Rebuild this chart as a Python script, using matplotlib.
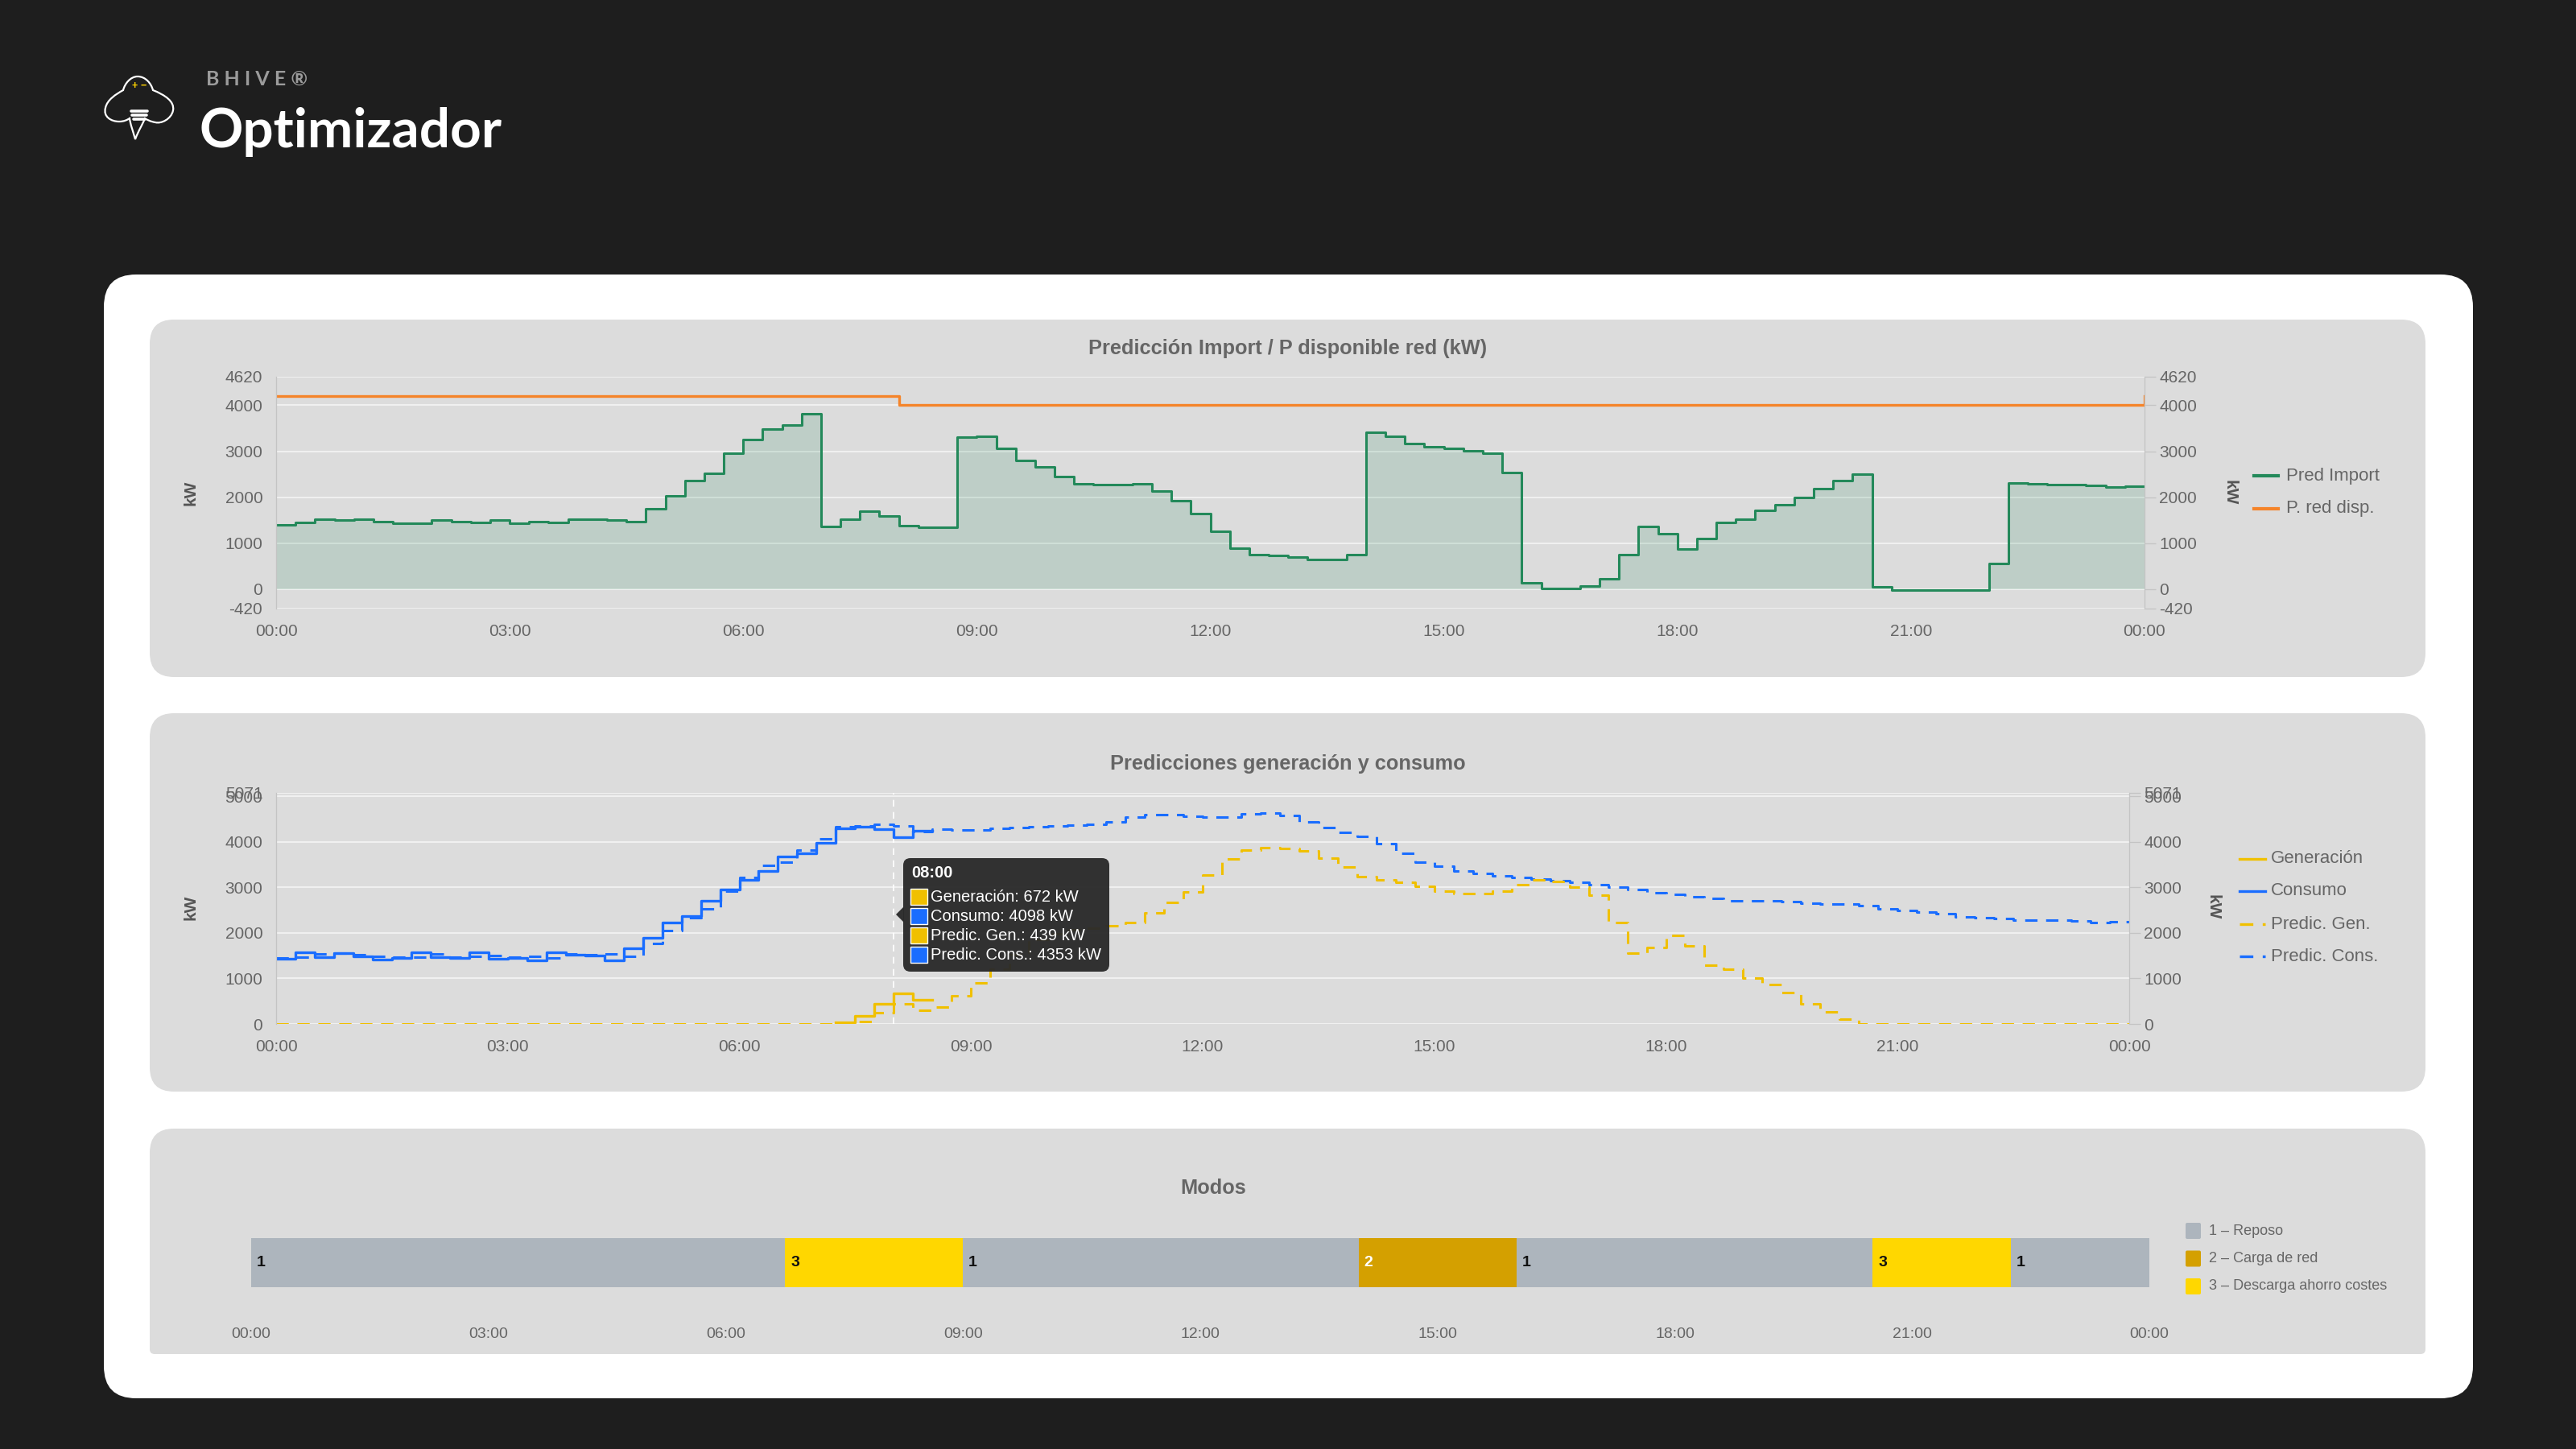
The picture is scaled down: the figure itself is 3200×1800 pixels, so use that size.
import numpy as np
import matplotlib
matplotlib.use('Agg')
import matplotlib.pyplot as plt
from matplotlib.patches import FancyBboxPatch, Rectangle, Polygon, PathPatch
from matplotlib.path import Path
from matplotlib.lines import Line2D

plt.rcParams['font.family'] = ['Liberation Sans', 'DejaVu Sans']
plt.rcParams['axes.unicode_minus'] = False

W, H = 3200, 1800

# ---------------- data (15 min slots) ----------------
hour_ticks = [0, 3, 6, 9, 12, 15, 18, 21, 24]
hour_labels = ['00:00', '03:00', '06:00', '09:00', '12:00', '15:00', '18:00', '21:00', '00:00']

pred_import = [1400, 1450, 1530, 1500, 1525, 1473, 1430, 1430,
               1502, 1467, 1456, 1502, 1438, 1473, 1444, 1520,
               1514, 1502, 1473, 1747, 2026, 2358, 2521, 2952,
               3249, 3476, 3563, 3814, 1357, 1531, 1706, 1590,
               1386, 1351, 1339, 3301, 3319, 3068, 2795, 2661,
               2457, 2288, 2271, 2282, 2300, 2137, 1921, 1642,
               1252, 891, 757, 739, 699, 652, 652, 757,
               3418, 3319, 3173, 3098, 3057, 3016, 2958, 2533,
               146, 17, 17, 76, 221, 757, 1368, 1205,
               873, 1095, 1456, 1514, 1718, 1834, 1997, 2183,
               2358, 2504, 58, -10, -10, -10, -10, -10,
               565, 2311, 2288, 2277, 2271, 2265, 2224, 2242]
red_disp_hours = [0, 8, 24]
red_disp_kw = [4200, 4000, 4200]
import_ticks = [-420, 0, 1000, 2000, 3000, 4000, 4620]

consumo = [1431, 1577, 1460, 1560, 1489, 1413, 1448, 1577,
           1460, 1448, 1577, 1431, 1448, 1390, 1566, 1519,
           1507, 1390, 1665, 1883, 2223, 2360, 2710, 2944,
           3161, 3355, 3677, 3748, 3971, 4293, 4334, 4280,
           4098, 4240]
generacion_start = 7.25
generacion = [40, 170, 440, 672, 522]
pred_gen = [0, 0, 0, 0, 0, 0, 0, 0, 0, 0, 0, 0, 0, 0, 0, 0,
            0, 0, 0, 0, 0, 0, 0, 0, 0, 0, 0, 0, 0, 25, 55, 246,
            439, 300, 375, 610, 904, 1209, 1520, 1850,
            1980, 2060, 2107, 2148, 2224, 2441, 2664, 2899,
            3263, 3627, 3820, 3867, 3850, 3795, 3648, 3443,
            3226, 3161, 3103, 3021, 2915, 2868, 2868, 2915,
            3062, 3161, 3120, 3003, 2827, 2223, 1548, 1683,
            1947, 1713, 1290, 1196, 1009, 874, 686, 434,
            258, 111, 0, 0, 0, 0, 0, 0, 0, 0, 0, 0, 0, 0, 0, 0]
pred_cons = [1448, 1460, 1536, 1560, 1519, 1489, 1472, 1460,
             1530, 1460, 1478, 1500, 1460, 1478, 1448, 1530,
             1519, 1530, 1478, 1765, 2047, 2328, 2534, 2915,
             3220, 3484, 3560, 3824, 4059, 4334, 4352, 4378,
             4353, 4231, 4278, 4260, 4260, 4290, 4307, 4337,
             4349, 4366, 4390, 4437, 4536, 4601, 4601, 4554,
             4542, 4542, 4613, 4624, 4569, 4440, 4305, 4205,
             4117, 3959, 3754, 3560, 3460, 3355, 3308, 3249,
             3208, 3179, 3138, 3103, 3062, 3003, 2944, 2886,
             2839, 2798, 2751, 2710, 2710, 2698, 2680, 2651,
             2639, 2639, 2592, 2528, 2493, 2463, 2416, 2358,
             2328, 2317, 2287, 2281, 2281, 2270, 2223, 2240]
gen_ticks = [0, 1000, 2000, 3000, 4000, 5000, 5071]

tooltip_hour = 8
tooltip_names = ['Generación', 'Consumo', 'Predic. Gen.', 'Predic. Cons.']
tooltip_values = [672, 4098, 439, 4353]

mode_start = [0, 6.75, 9, 14, 16, 20.5, 22.25]
mode_end = [6.75, 9, 14, 16, 20.5, 22.25, 24]
mode_id = [1, 3, 1, 2, 1, 3, 1]
mode_legend = ['1 – Reposo', '2 – Carga de red', '3 – Descarga ahorro costes']

# ---------------- style ----------------
DARK = '#1e1e1e'
PANEL = '#dcdcdc'
GRID = '#f0f0f0'
AXIS = '#c4c4c4'
TXT = '#666666'
GREEN = '#23895a'
ORANGE = '#f5842a'
BLUE = '#1a6dff'
YELLOW = '#f0c000'
MODE_COLORS = {1: '#adb5bd', 2: '#d4a000', 3: '#ffd700'}
DASH = (0, (5, 3.5))
TICK_FS = 15
TITLE_FS = 18.3


def steps(values, start=0.0):
    t = start + 0.25 * np.arange(len(values) + 1)
    v = np.append(values, values[-1])
    return t, v


def px_axes(x0, y0, x1, y1, **kw):
    return fig.add_axes([x0 / W, 1 - y1 / H, (x1 - x0) / W, (y1 - y0) / H], **kw)


def style_value_axes(ax, ylim, yticks, pad_x):
    ax.set_facecolor('none')
    ax.set_xlim(0, 24)
    ax.set_ylim(*ylim)
    ax.set_yticks(yticks)
    ax.set_xticks(hour_ticks)
    ax.set_xticklabels(hour_labels)
    ax.grid(axis='y', color=GRID, lw=1.5)
    ax.set_axisbelow(True)
    for s in ['top', 'bottom']:
        ax.spines[s].set_visible(False)
    for s in ['left', 'right']:
        ax.spines[s].set_color(AXIS)
        ax.spines[s].set_linewidth(0.9)
    ax.tick_params(axis='y', length=0, pad=12, labelsize=TICK_FS, labelcolor=TXT)
    ax.tick_params(axis='x', length=0, pad=pad_x, labelsize=TICK_FS, labelcolor=TXT)
    axr = ax.twinx()
    axr.set_facecolor('none')
    axr.set_ylim(*ylim)
    axr.set_yticks(yticks)
    for s in axr.spines.values():
        s.set_visible(False)
    axr.tick_params(axis='y', length=10, width=0.9, color=AXIS, pad=3,
                    labelsize=TICK_FS, labelcolor=TXT)
    return axr


fig = plt.figure(figsize=(W / 100, H / 100), dpi=100)
fig.patch.set_facecolor(DARK)

bg = fig.add_axes([0, 0, 1, 1])
bg.set_xlim(0, W)
bg.set_ylim(H, 0)
bg.axis('off')

# header: logo + title
bee = [(171, 95),
       (181, 95), (188, 104), (190, 112),
       (205, 118), (217, 126), (215, 137),
       (213, 148), (200, 154), (193, 152),
       (187, 151), (183, 149), (180, 147),
       (177, 155), (172, 162), (168, 173),
       (165, 162), (162, 155), (161, 147),
       (158, 149), (154, 151), (148, 151),
       (138, 151), (128, 145), (131, 134),
       (133, 124), (144, 117), (153, 112),
       (155, 104), (162, 95), (171, 95)]
bee_codes = [Path.MOVETO] + [Path.CURVE4] * (len(bee) - 1)
bg.add_patch(PathPatch(Path(bee, bee_codes), fc='none', ec='white', lw=1.6))
for yy, x0, x1 in [(138, 163, 183), (143, 164, 182), (148, 166, 180)]:
    bg.plot([x0, x1], [yy, yy], color='white', lw=2.6, solid_capstyle='round')
bg.text(167, 107, '+', color='#ffd400', fontsize=9, fontweight='bold', ha='center', va='center')
bg.text(178, 107, '−', color='#ffd400', fontsize=9, fontweight='bold', ha='center', va='center')
bg.text(256, 106, 'B H I V E ®', family='Lato', fontweight='bold', fontsize=18,
        color='#9b9b9b', ha='left', va='baseline')
bg.text(247, 183, 'Optimizador', family='Lato', fontweight='bold', fontsize=48.5,
        color='white', ha='left', va='baseline')

# white card and grey panels
bg.add_patch(FancyBboxPatch((129, 341), 2943, 1396, boxstyle='round,pad=0,rounding_size=40',
                            fc='white', ec='none'))
bg.add_patch(FancyBboxPatch((186, 397), 2827, 444, boxstyle='round,pad=0,rounding_size=30',
                            fc=PANEL, ec='none'))
bg.add_patch(FancyBboxPatch((186, 886), 2827, 470, boxstyle='round,pad=0,rounding_size=30',
                            fc=PANEL, ec='none'))
bg.add_patch(FancyBboxPatch((186, 1402), 2827, 200, boxstyle='round,pad=0,rounding_size=30',
                            fc=PANEL, ec='none'))
bg.add_patch(FancyBboxPatch((186, 1520), 2827, 162, boxstyle='round,pad=0,rounding_size=6',
                            fc=PANEL, ec='none'))

# titles, axis names
bg.text(1600, 433, 'Predicción Import / P disponible red (kW)', ha='center', va='center',
        fontsize=TITLE_FS, fontweight='bold', color=TXT)
bg.text(1600, 949, 'Predicciones generación y consumo', ha='center', va='center',
        fontsize=TITLE_FS, fontweight='bold', color=TXT)
bg.text(1507, 1476, 'Modos', ha='center', va='center', fontsize=TITLE_FS, fontweight='bold',
        color=TXT)
for x, y, rot in [(237, 612, 90), (2770, 612, 270), (237, 1127, 90), (2749, 1127, 270)]:
    bg.text(x, y, 'kW', rotation=rot, ha='center', va='center', fontsize=15,
            fontweight='bold', color='#555555')

# legends
for y, lab, col in [(591, 'Pred Import', GREEN), (632, 'P. red disp.', ORANGE)]:
    bg.add_line(Line2D([2800, 2830], [y, y], color=col, lw=3))
    bg.text(2840, y, lab, va='center', ha='left', fontsize=16, color=TXT)
for y, lab, col, ls in [(1067, 'Generación', YELLOW, '-'), (1107, 'Consumo', BLUE, '-'),
                        (1148, 'Predic. Gen.', YELLOW, DASH), (1188, 'Predic. Cons.', BLUE, DASH)]:
    bg.add_line(Line2D([2782, 2814], [y, y], color=col, lw=2.4, ls=ls))
    bg.text(2821, y, lab, va='center', ha='left', fontsize=16, color=TXT)
for i, lab in enumerate(mode_legend):
    y = 1529 + 34.5 * i
    bg.add_patch(FancyBboxPatch((2715, y - 10), 19, 20, boxstyle='round,pad=0,rounding_size=2',
                                fc=MODE_COLORS[i + 1], ec='none'))
    bg.text(2744, y, lab, va='center', ha='left', fontsize=13, color=TXT)

# ---------------- chart 1: import prediction ----------------
ax1 = px_axes(343, 468, 2664, 756)
style_value_axes(ax1, (-420, 4620), import_ticks, 13.5)
t, v = steps(pred_import)
ax1.fill_between(t, v, 0, step='post', color=GREEN, alpha=0.16, lw=0)
ax1.plot(t, v, drawstyle='steps-post', color=GREEN, lw=2.2)
ax1.plot(red_disp_hours, red_disp_kw, drawstyle='steps-post', color=ORANGE, lw=2.4)

# ---------------- chart 2: generation / consumption ----------------
ax2 = px_axes(343, 985, 2645, 1272)
style_value_axes(ax2, (0, 5071), gen_ticks, 14)
ax2.axvline(tooltip_hour, color='white', lw=1.2, ls=(0, (5, 4)), zorder=1.5)
t, v = steps(pred_cons)
ax2.plot(t, v, drawstyle='steps-post', color=BLUE, lw=2.2, ls=DASH)
t, v = steps(pred_gen)
ax2.plot(t, v, drawstyle='steps-post', color=YELLOW, lw=2.2, ls=DASH)
t, v = steps(consumo)
ax2.plot(t, v, drawstyle='steps-post', color=BLUE, lw=2.4)
t, v = steps(generacion, generacion_start)
ax2.plot(t, v, drawstyle='steps-post', color=YELLOW, lw=2.4)

# ---------------- chart 3: modes ----------------
ax3 = px_axes(312, 1538, 2670, 1599)
ax3.set_facecolor('none')
ax3.set_xlim(0, 24)
ax3.set_ylim(0, 1)
for s in ax3.spines.values():
    s.set_visible(False)
ax3.set_yticks([])
ax3.set_xticks(hour_ticks)
ax3.set_xticklabels(hour_labels)
ax3.tick_params(axis='x', length=0, pad=36, labelsize=14, labelcolor=TXT)
for a, b, m in zip(mode_start, mode_end, mode_id):
    ax3.barh(0.5, b - a, left=a, height=1, color=MODE_COLORS[m], lw=0)
    ax3.annotate(str(m), (a, 0.5), xytext=(5, 0), textcoords='offset points',
                 va='center', ha='left', fontsize=14, fontweight='bold',
                 color='white' if m == 2 else '#111111')

# ---------------- tooltip overlay ----------------
ov = fig.add_axes([0, 0, 1, 1], zorder=20)
ov.set_xlim(0, W)
ov.set_ylim(H, 0)
ov.axis('off')
ov.patch.set_alpha(0)
ov.add_patch(FancyBboxPatch((1122, 1066), 256, 141, boxstyle='round,pad=0,rounding_size=9',
                            fc='#2a2a2a', ec='none', alpha=0.96))
ov.add_patch(Polygon([(1113, 1136), (1123, 1126), (1123, 1146)], closed=True,
                     fc='#2a2a2a', ec='none', alpha=0.96))
ov.text(1132, 1085, f'{tooltip_hour:02d}:00', color='white', fontweight='bold',
        fontsize=14.5, va='center', ha='left')
for i, (name, val) in enumerate(zip(tooltip_names, tooltip_values)):
    y = 1114 + 24 * i
    col = YELLOW if 'Gen' in name else BLUE
    ov.add_patch(Rectangle((1131, y - 10), 21, 20, fc=col, ec='white', lw=1))
    ov.text(1156, y, f'{name}: {val} kW', color='white', fontsize=14.5, va='center', ha='left')

fig.savefig('out.png', dpi=100, facecolor=DARK)
